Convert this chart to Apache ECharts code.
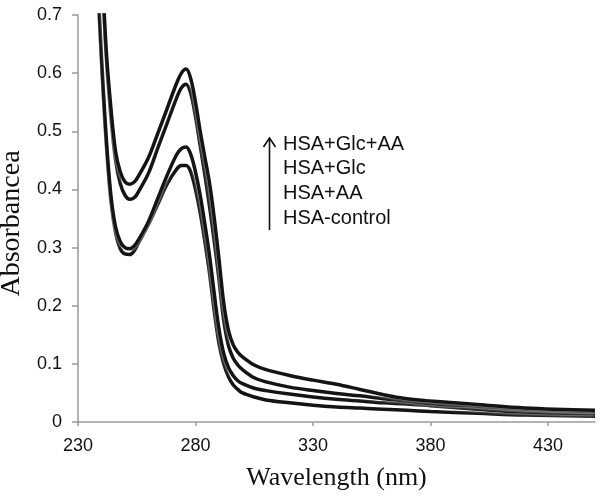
<!DOCTYPE html>
<html>
<head>
<meta charset="utf-8">
<script src="https://cdn.jsdelivr.net/npm/echarts@6/dist/echarts.min.js"></script>
<style>html,body{margin:0;padding:0;background:#fff}#c{width:604px;height:501px}</style>
</head>
<body>
<div id="c"></div>
<script>
// Wavelengths (nm)
const wavelengths = [238,240,242,244,246,248,250,252,254,256,260,264,268,272,274,276,278,280,282,284,286,288,290,292,294,296,298,300,305,310,320,330,340,350,360,370,380,400,420,450];
// Absorbance values per sample
const hsaGlcAA = [0.95,0.80,0.64,0.54,0.465,0.43,0.413,0.409,0.413,0.425,0.455,0.497,0.54,0.583,0.600,0.607,0.59,0.55,0.50,0.455,0.41,0.35,0.28,0.205,0.158,0.133,0.12,0.112,0.098,0.09,0.08,0.072,0.065,0.056,0.047,0.040,0.036,0.030,0.024,0.020];
const hsaGlc   = [0.94,0.79,0.63,0.525,0.45,0.41,0.39,0.383,0.386,0.398,0.428,0.472,0.515,0.558,0.575,0.581,0.565,0.525,0.475,0.425,0.37,0.31,0.245,0.175,0.132,0.11,0.098,0.09,0.076,0.069,0.06,0.054,0.049,0.045,0.040,0.036,0.032,0.027,0.022,0.018];
const hsaAA    = [0.80,0.63,0.49,0.39,0.335,0.31,0.30,0.298,0.303,0.315,0.345,0.385,0.425,0.46,0.47,0.473,0.46,0.43,0.39,0.34,0.285,0.22,0.16,0.118,0.094,0.08,0.071,0.066,0.058,0.054,0.048,0.043,0.039,0.036,0.033,0.031,0.028,0.022,0.017,0.014];
const hsaControl = [0.79,0.62,0.48,0.38,0.325,0.298,0.289,0.288,0.295,0.31,0.34,0.375,0.41,0.435,0.441,0.441,0.43,0.40,0.36,0.31,0.255,0.19,0.135,0.10,0.078,0.064,0.056,0.05,0.043,0.038,0.033,0.029,0.026,0.024,0.022,0.020,0.018,0.015,0.012,0.010];
// Tick labels
const xTicks = [230,280,330,380,430];
const legendLabels = ['HSA+Glc+AA','HSA+Glc','HSA+AA','HSA-control'];

const seriesDefs = [
  {name:'HSA-control', data:hsaControl},
  {name:'HSA+AA', data:hsaAA},
  {name:'HSA+Glc', data:hsaGlc},
  {name:'HSA+Glc+AA', data:hsaGlcAA}
];

const chart = echarts.init(document.getElementById('c'), null, {renderer:'canvas'});
const axisGrey = '#9a9a9a';
const legendGraphics = legendLabels.map((t,i)=>({
  type:'text', left:283, top:134 + i*24.7,
  style:{text:t, fill:'#111', font:'20px "Liberation Sans", Arial, sans-serif'}
}));
chart.setOption({
  animation:false,
  backgroundColor:'#fff',
  grid:{left:78, right:9, top:15, bottom:79, containLabel:false, outerBoundsMode:'none'},
  xAxis:{
    type:'value', min:230, max:450,
    name:'Wavelength (nm)', nameLocation:'middle', nameGap:43,
    nameTextStyle:{fontFamily:'"Liberation Serif", "Times New Roman", serif', fontSize:26, color:'#111'},
    axisLine:{show:true, lineStyle:{color:axisGrey, width:1.5}},
    axisTick:{show:true, length:4, customValues:xTicks, lineStyle:{color:axisGrey, width:1.5}},
    axisLabel:{customValues:xTicks, margin:15, fontFamily:'"Liberation Sans", Arial, sans-serif', fontSize:18, color:'#111'},
    splitLine:{show:false}
  },
  yAxis:{
    type:'value', min:0, max:0.7, interval:0.1,
    name:'Absorbancea', nameLocation:'middle', nameGap:47,
    nameTextStyle:{fontFamily:'"Liberation Serif", "Times New Roman", serif', fontSize:28, color:'#111', padding:[0,0,0,-10]},
    axisLine:{show:true, lineStyle:{color:axisGrey, width:1.5}},
    axisTick:{show:true, length:6, lineStyle:{color:axisGrey, width:1.5}},
    axisLabel:{margin:16, fontFamily:'"Liberation Sans", Arial, sans-serif', fontSize:18, color:'#111'},
    splitLine:{show:false}
  },
  series: seriesDefs.map(s=>({
    name:s.name, type:'line', smooth:0.35, symbol:'none', clip:true,
    data: wavelengths.map((w,i)=>[w, s.data[i]]),
    lineStyle:{color:'#141414', width:3.5, shadowColor:'#ffffff', shadowBlur:3}
  })),
  graphic: [
    ...legendGraphics,
    {type:'line', shape:{x1:269.5, y1:230, x2:269.5, y2:139}, style:{stroke:'#111', lineWidth:1.6}},
    {type:'polyline', shape:{points:[[263.5,147],[269.5,138],[275.5,147]]}, style:{stroke:'#111', lineWidth:1.6, fill:null}}
  ]
});
</script>
</body>
</html>
